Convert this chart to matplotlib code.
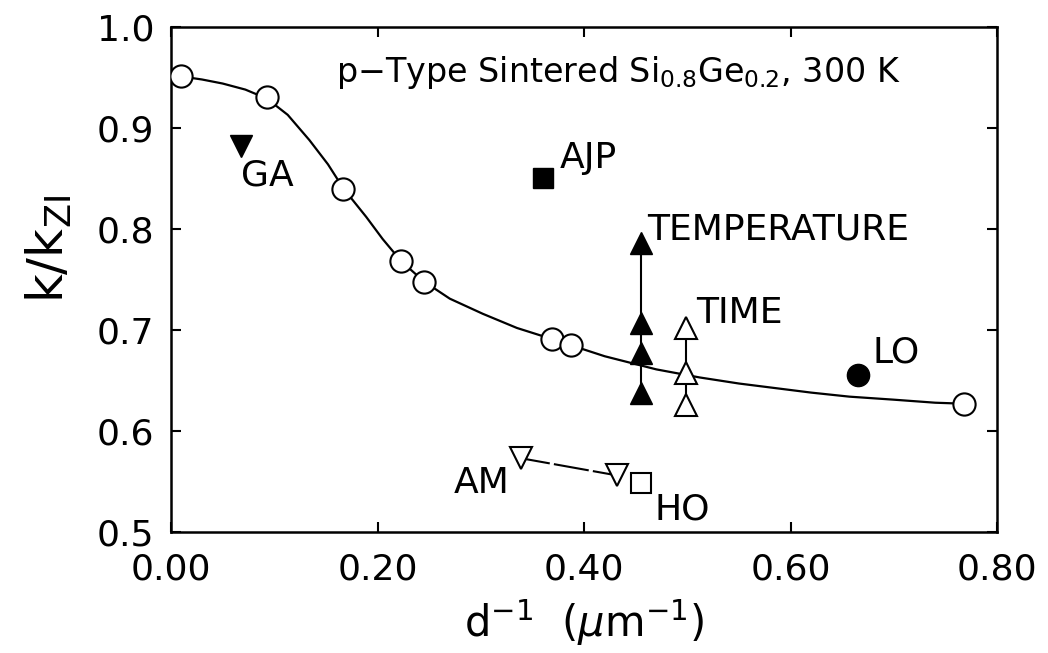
import matplotlib.pyplot as plt

plt.rcParams['font.family'] = ['DejaVu Sans']
plt.rcParams['mathtext.fontset'] = 'dejavusans'

# fitted curve through the data
curve_x = [0.010, 0.030, 0.050, 0.072, 0.093, 0.113, 0.134, 0.152, 0.167,
           0.189, 0.205, 0.223, 0.245, 0.270, 0.302, 0.335, 0.369, 0.387,
           0.420, 0.470, 0.512, 0.550, 0.620, 0.657, 0.700, 0.740, 0.768]
curve_y = [0.951, 0.948, 0.944, 0.938, 0.929, 0.913, 0.888, 0.864, 0.840,
           0.812, 0.790, 0.768, 0.748, 0.731, 0.716, 0.702, 0.691, 0.685,
           0.674, 0.661, 0.653, 0.647, 0.638, 0.634, 0.631, 0.628, 0.627]

# open circles sitting on the curve
circ_x = [0.010, 0.093, 0.167, 0.223, 0.245, 0.369, 0.387, 0.768]
circ_y = [0.951, 0.931, 0.840, 0.768, 0.748, 0.691, 0.685, 0.627]

# other data sets
ga_x, ga_y = [0.068], [0.882]
ajp_x, ajp_y = [0.360], [0.850]
temp_x = [0.455, 0.455, 0.455, 0.455]
temp_y = [0.786, 0.707, 0.677, 0.638]
time_x = [0.499, 0.499, 0.499]
time_y = [0.702, 0.657, 0.626]
lo_x, lo_y = [0.665], [0.655]
am_x = [0.339, 0.432]
am_y = [0.573, 0.556]
ho_x, ho_y = [0.455], [0.549]

xticks = [0.0, 0.2, 0.4, 0.6, 0.8]
yticks = [0.5, 0.6, 0.7, 0.8, 0.9, 1.0]

fig = plt.figure(figsize=(10.48, 6.53), dpi=100)
ax = fig.add_axes([0.1632, 0.1853, 0.7882, 0.7734])

ms = 16
mew = 1.5
ax.plot(curve_x, curve_y, color='black', lw=1.6, zorder=2)
ax.plot(circ_x, circ_y, 'o', ms=ms, mfc='white', mec='black', mew=mew, zorder=3)

ax.plot(ga_x, ga_y, 'v', ms=ms, color='black', zorder=3)
ax.plot(ajp_x, ajp_y, 's', ms=14, color='black', zorder=3)
ax.plot(temp_x, temp_y, '-^', ms=ms, color='black', lw=1.5, zorder=3)
ax.plot(time_x, time_y, '-^', ms=ms, color='black', mfc='white', mew=mew,
        lw=1.5, zorder=3)
ax.plot(lo_x, lo_y, 'o', ms=ms, color='black', zorder=3)
ax.plot(am_x, am_y, 'v', ms=ms, mfc='white', mec='black', mew=mew, zorder=3)
ax.plot(am_x, am_y, color='black', lw=1.5, ls=(3, (17, 2)), zorder=2)
ax.plot(ho_x, ho_y, 's', ms=14, mfc='white', mec='black', mew=mew, zorder=3)

fs = 26
ax.text(0.068, 0.853, 'GA', fontsize=fs, va='center', ha='left')
ax.text(0.376, 0.870, 'AJP', fontsize=fs, va='center', ha='left')
ax.text(0.461, 0.799, 'TEMPERATURE', fontsize=fs, va='center', ha='left')
ax.text(0.509, 0.717, 'TIME', fontsize=fs, va='center', ha='left')
ax.text(0.679, 0.678, 'LO', fontsize=fs, va='center', ha='left')
ax.text(0.328, 0.549, 'AM', fontsize=fs, va='center', ha='right')
ax.text(0.468, 0.522, 'HO', fontsize=fs, va='center', ha='left')

ax.text(0.160, 0.955, r'p$-$Type Sintered Si$_{0.8}$Ge$_{0.2}$, 300 K',
        fontsize=24, va='center', ha='left')

ax.set_xlim(0, 0.8)
ax.set_ylim(0.5, 1.0)
ax.set_xticks(xticks)
ax.set_yticks(yticks)
ax.set_xticklabels(['%.2f' % v for v in xticks])
ax.set_yticklabels(['%.1f' % v for v in yticks])
ax.tick_params(direction='in', length=7, width=1.5, top=True, right=True,
               labelsize=26)
ax.tick_params(axis='x', pad=15)
ax.tick_params(axis='y', pad=12)
for s in ax.spines.values():
    s.set_linewidth(1.8)

ax.set_xlabel(r'd$^{-1}$  ($\mu$m$^{-1}$)', fontsize=30)
ax.xaxis.set_label_coords(0.5, -0.13)
ax.set_ylabel(r'k/k$_{\rm ZI}$', fontsize=36)
ax.yaxis.set_label_coords(-0.117, 0.56)

fig.savefig('out.png', dpi=100)
